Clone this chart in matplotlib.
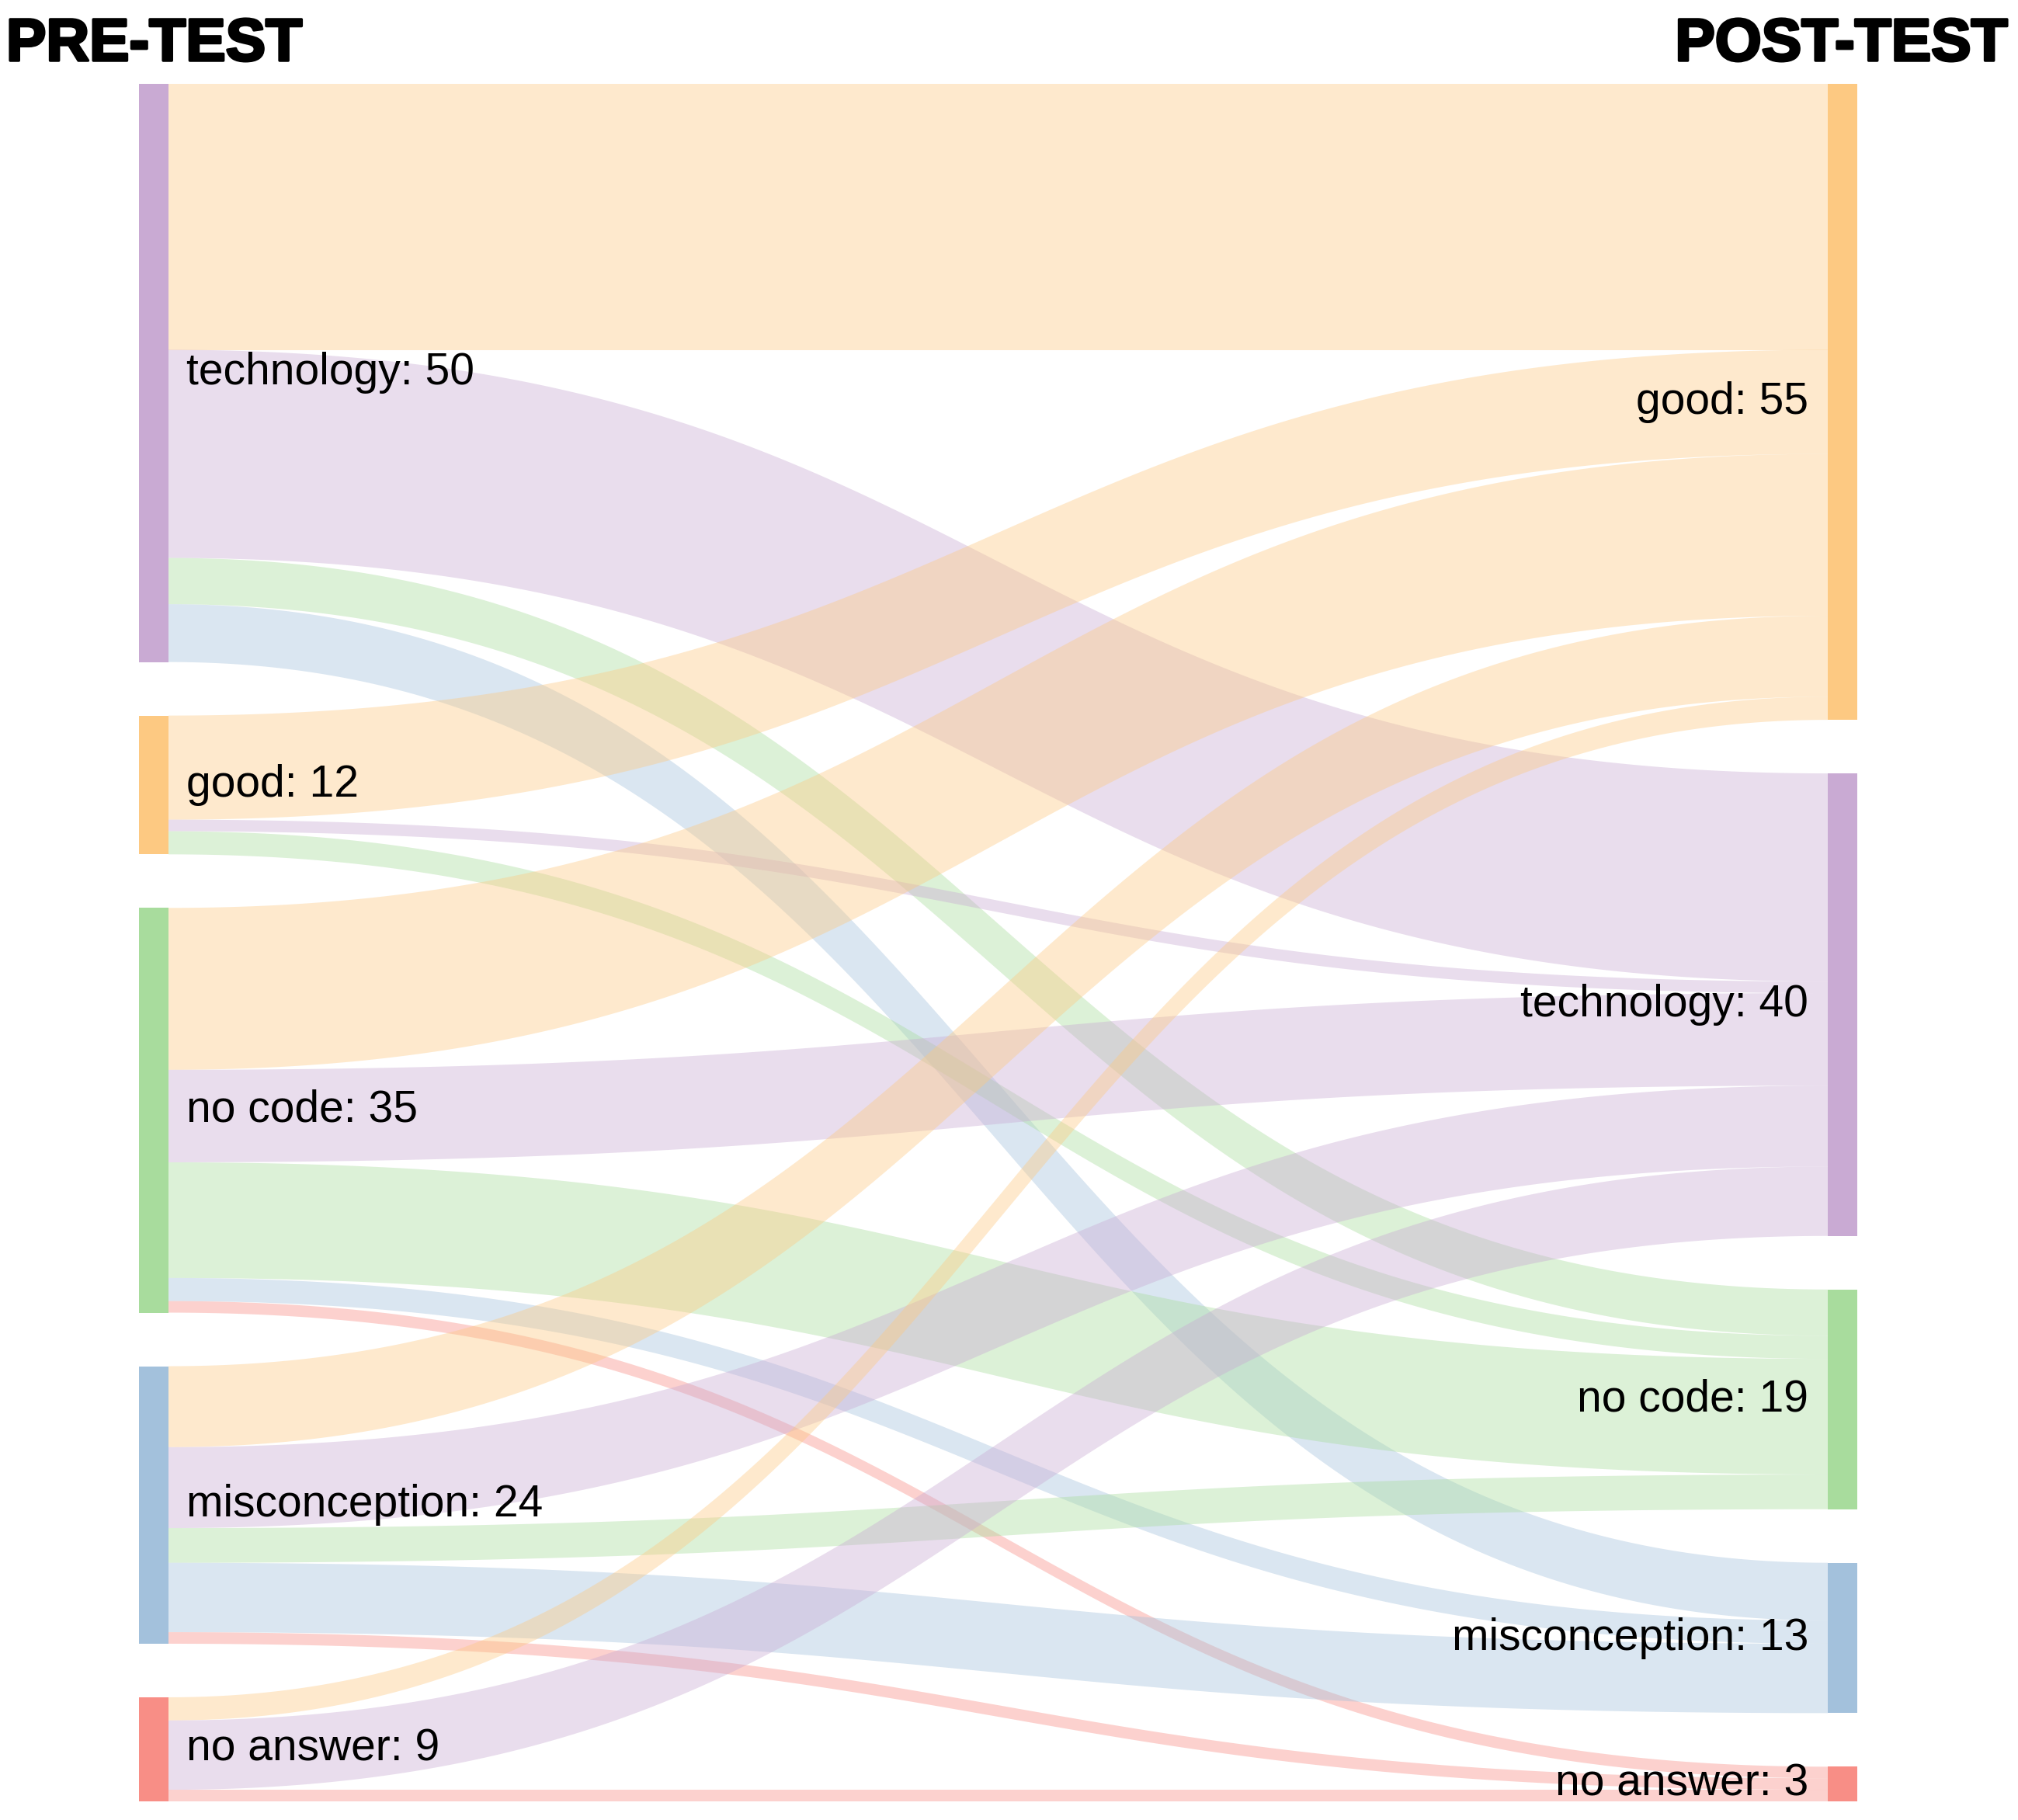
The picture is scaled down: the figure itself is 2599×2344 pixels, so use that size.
import numpy as np
import matplotlib
matplotlib.use("Agg")
from matplotlib import pyplot as plt
from matplotlib import patheffects

# categories (same order on both sides)
categories = ["technology", "good", "no code", "misconception", "no answer"]
right_order = ["good", "technology", "no code", "misconception", "no answer"]

# flows: rows = pre-test category, columns = post-test category (right_order)
flows = {
    "technology":    [23, 18, 4, 5, 0],
    "good":          [9, 1, 2, 0, 0],
    "no code":       [14, 8, 10, 2, 1],
    "misconception": [7, 7, 3, 6, 1],
    "no answer":     [2, 6, 0, 0, 1],
}

colors = {
    "technology": "#c9aad3",
    "good": "#fdc982",
    "no code": "#a8dc9d",
    "misconception": "#a3c1dc",
    "no answer": "#f88e86",
}

W, H = 2599, 2344
fig = plt.figure(figsize=(W / 100, H / 100), dpi=100)
ax = fig.add_axes([0, 0, 1, 1])
ax.set_xlim(0, W)
ax.set_ylim(H, 0)
ax.axis("off")

top, bottom = 108, 2320
xl0, xl1 = 179, 217
xr0, xr1 = 2354, 2392
gap = 69
total = sum(sum(v) for v in flows.values())
unit = (bottom - top - gap * (len(categories) - 1)) / total

left_tot = {c: sum(flows[c]) for c in categories}
right_tot = {t: sum(flows[c][j] for c in categories) for j, t in enumerate(right_order)}

def stack(order, tots):
    pos, y = {}, top
    for c in order:
        pos[c] = y
        y += tots[c] * unit + gap
    return pos

lpos = stack(categories, left_tot)
rpos = stack(right_order, right_tot)

# links
lcur = dict(lpos)
rcur = dict(rpos)
t = np.linspace(0, 1, 200)

def bez(y0, y1):
    x = (1 - t) ** 3 * xl1 + 3 * (1 - t) ** 2 * t * (xl1 + xr0) / 2 + 3 * (1 - t) * t ** 2 * (xl1 + xr0) / 2 + t ** 3 * xr0
    y = (1 - t) ** 3 * y0 + 3 * (1 - t) ** 2 * t * y0 + 3 * (1 - t) * t ** 2 * y1 + t ** 3 * y1
    return x, y

# right side stacking follows source order
link_list = []
for c in categories:
    for j, tg in enumerate(right_order):
        v = flows[c][j]
        if v == 0:
            continue
        s0 = lcur[c]
        lcur[c] += v * unit
        link_list.append((c, tg, v, s0))

for tg in right_order:
    for c, tg2, v, s0 in link_list:
        if tg2 != tg:
            continue
        pass

tpos = {}
for c, tg, v, s0 in link_list:
    tpos[(c, tg)] = rcur[tg]
    rcur[tg] += v * unit

for c, tg, v, s0 in link_list:
    e0 = tpos[(c, tg)]
    xa, ya = bez(s0, e0)
    xb, yb = bez(s0 + v * unit, e0 + v * unit)
    ax.fill(np.concatenate([xa, xb[::-1]]), np.concatenate([ya, yb[::-1]]),
            color=colors[tg], alpha=0.4, lw=0)

# nodes
for c in categories:
    y0 = lpos[c]
    h = left_tot[c] * unit
    ax.add_patch(plt.Rectangle((xl0, y0), xl1 - xl0, h, color=colors[c], lw=0))
    ax.text(xl1 + 23, y0 + h / 2, f"{c}: {left_tot[c]}", ha="left", va="center",
            fontsize=41, family="Liberation Sans", color="black")
for c in right_order:
    y0 = rpos[c]
    h = right_tot[c] * unit
    ax.add_patch(plt.Rectangle((xr0, y0), xr1 - xr0, h, color=colors[c], lw=0))
    ax.text(xr0 - 25, y0 + h / 2, f"{c}: {right_tot[c]}", ha="right", va="center",
            fontsize=41, family="Liberation Sans", color="black")

pe = [patheffects.withStroke(linewidth=2.5, foreground="black")]
ax.text(8, 78, "PRE-TEST", ha="left", va="baseline", fontsize=55.5,
        family="Liberation Sans", fontweight="bold", path_effects=pe)
ax.text(2586, 78, "POST-TEST", ha="right", va="baseline", fontsize=55.5,
        family="Liberation Sans", fontweight="bold", path_effects=pe)

fig.savefig("out.png", dpi=100, facecolor="white")
